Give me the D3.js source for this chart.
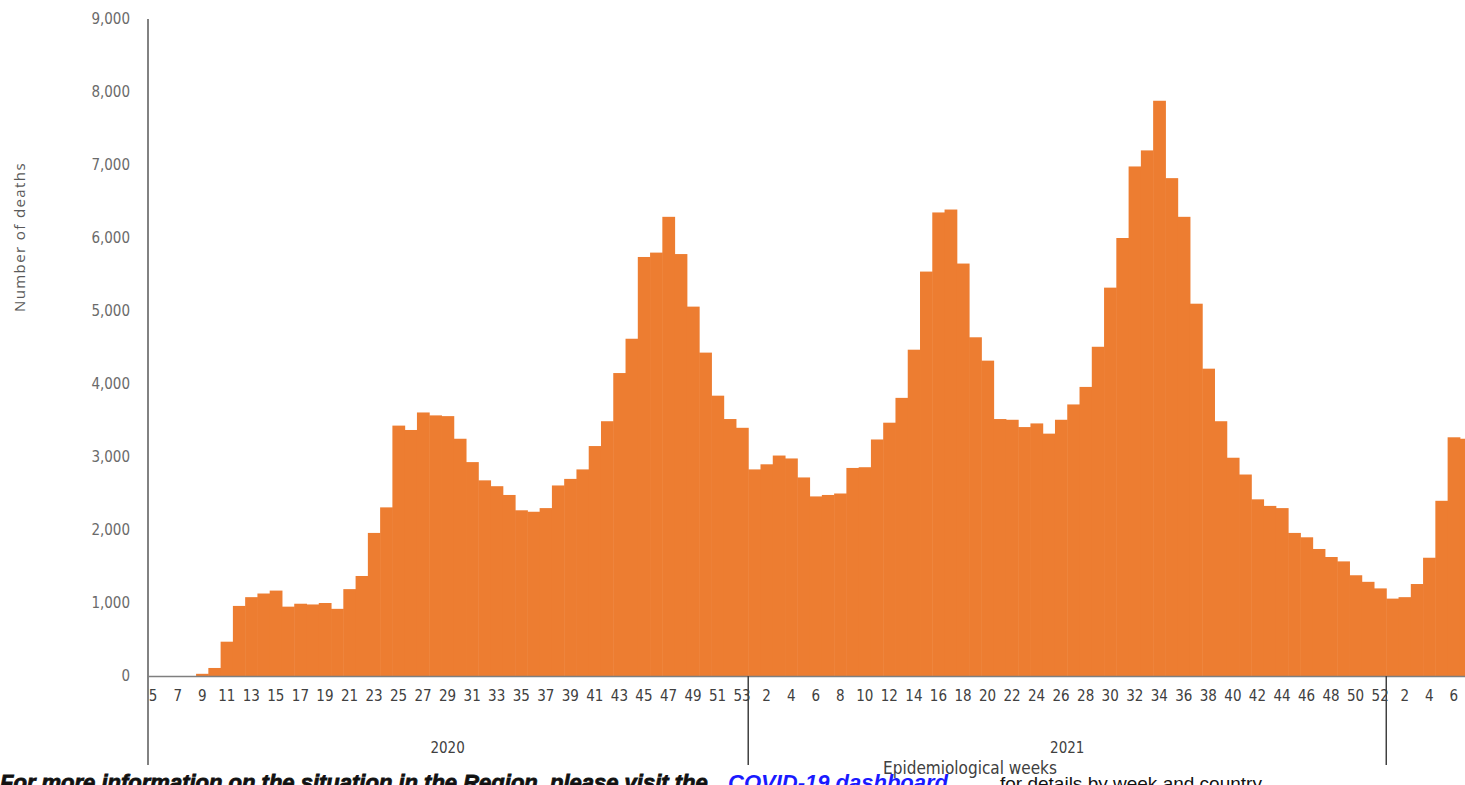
<!DOCTYPE html>
<html>
<head>
<meta charset="utf-8">
<script src="https://cdn.jsdelivr.net/npm/d3@7"></script>
<style>
  body { margin: 0; background: #fff; overflow: hidden; }
  #chart svg { display: block; }
</style>
</head>
<body>
<div id="chart"></div>
<script>
// weekly deaths
const deaths2020 = [0, 0, 0, 0, 30, 110, 470, 960, 1080, 1130, 1170, 950, 990, 980, 1000, 920,
  1190, 1370, 1960, 2310, 3430, 3370, 3610, 3570, 3560, 3250, 2930, 2680, 2600, 2480, 2270,
  2250, 2300, 2610, 2700, 2830, 3150, 3490, 4150, 4620, 5740, 5800, 6290, 5780, 5060, 4430,
  3840, 3520, 3400]
const deaths2021 = [2830, 2900, 3020, 2980, 2720, 2460, 2480, 2500, 2850, 2860, 3240, 3470,
  3810, 4470, 5540, 6350, 6390, 5650, 4640, 4320, 3520, 3510, 3410, 3460, 3320, 3510, 3720,
  3960, 4510, 5320, 6000, 6980, 7200, 7880, 6820, 6290, 5100, 4210, 3490, 2990, 2760, 2420,
  2330, 2300, 1960, 1900, 1740, 1630, 1570, 1380, 1290, 1200]
const deaths2022 = [1060, 1080, 1260, 1620, 2400, 3270, 3250]
const years = ['2020', '2021', '2022']
const firstWeek = { '2020': 5, '2021': 1, '2022': 1 }
const yTicks = [0, 1000, 2000, 3000, 4000, 5000, 6000, 7000, 8000, 9000]

const width = 1465
const height = 785
const left = 147
const step = 12.27
const baseY = 676
const topY = 19

const seriesByYear = { '2020': deaths2020, '2021': deaths2021, '2022': deaths2022 }
const data = []
years.forEach(y => {
  seriesByYear[y].forEach((v, i) => {
    data.push({ year: y, week: firstWeek[y] + i, value: v, key: y + '-' + (firstWeek[y] + i) })
  })
})

const svg = d3.select('#chart')
  .append('svg')
  .attr('width', width)
  .attr('height', height)

const x = d3.scaleBand()
  .domain(data.map(d => d.key))
  .range([left, left + data.length * step])
  .padding(0)

const y = d3.scaleLinear()
  .domain([0, 9000])
  .range([baseY, topY])

// bars
svg.append('g')
  .selectAll('rect')
  .data(data)
  .join('rect')
  .attr('x', d => x(d.key))
  .attr('y', d => y(d.value))
  .attr('width', x.bandwidth() + 0.5)
  .attr('height', d => baseY - y(d.value))
  .attr('fill', '#ed7d31')

const axisFont = '"DejaVu Sans Condensed", "Liberation Sans Narrow", sans-serif'

// y axis
const yAxis = d3.axisLeft(y)
  .tickValues(yTicks)
  .tickSize(0)
  .tickPadding(18)
  .tickFormat(d3.format(','))
svg.append('g')
  .attr('transform', `translate(${left + 1}, 0)`)
  .call(yAxis)
  .call(g => g.select('.domain').remove())
  .selectAll('text')
  .style('font-family', axisFont)
  .style('font-size', '15px')
  .attr('fill', '#6a6a6a')

svg.append('line')
  .attr('x1', left + 1).attr('x2', left + 1)
  .attr('y1', topY).attr('y2', 765)
  .attr('stroke', '#595959')
  .attr('stroke-width', 1.5)

// x axis baseline
svg.append('line')
  .attr('x1', left + 1).attr('x2', width)
  .attr('y1', baseY + 0.5).attr('y2', baseY + 0.5)
  .attr('stroke', '#7f7f7f')
  .attr('stroke-width', 1.5)

// week labels: odd weeks in 2020, even weeks afterwards
const labelled = data.filter(d => d.year === '2020' ? d.week % 2 === 1 : d.week % 2 === 0)
const xAxis = d3.axisBottom(x)
  .tickSize(0)
  .tickPadding(14)
  .tickValues(labelled.map(d => d.key))
  .tickFormat(k => k.split('-')[1])
svg.append('g')
  .attr('transform', `translate(0, ${baseY})`)
  .call(xAxis)
  .call(g => g.select('.domain').remove())
  .selectAll('text')
  .style('font-family', axisFont)
  .style('font-size', '15px')
  .attr('fill', '#404040')

// year separators and labels
const yearStart = yr => x(data.find(d => d.year === yr).key)
const yearEnd = yr => { const ds = data.filter(d => d.year === yr); return x(ds[ds.length - 1].key) + x.bandwidth() }
;['2021', '2022'].forEach(yr => {
  svg.append('line')
    .attr('x1', yearStart(yr)).attr('x2', yearStart(yr))
    .attr('y1', baseY).attr('y2', 765)
    .attr('stroke', '#404040')
    .attr('stroke-width', 1.5)
})
;['2020', '2021'].forEach(yr => {
  svg.append('text')
    .attr('x', (yearStart(yr) + yearEnd(yr)) / 2)
    .attr('y', 753)
    .attr('text-anchor', 'middle')
    .style('font-family', axisFont)
    .style('font-size', '15px')
    .attr('fill', '#404040')
    .text(yr)
})

// axis titles
svg.append('text')
  .attr('transform', 'translate(25, 237) rotate(-90)')
  .attr('text-anchor', 'middle')
  .style('font-family', '"Open Sans", sans-serif')
  .style('font-size', '15px')
  .style('letter-spacing', '1.4px')
  .attr('fill', '#595959')
  .text('Number of  deaths')

svg.append('text')
  .attr('x', 970)
  .attr('y', 774)
  .attr('text-anchor', 'middle')
  .style('font-family', axisFont)
  .style('font-size', '17px')
  .attr('fill', '#404040')
  .text('Epidemiological weeks')

// caption line, cut off by the bottom edge as in the source
const cap = svg.append('g').style('font-family', '"Liberation Sans", sans-serif')
  .style('font-size', '22px').style('font-weight', 'bold').style('font-style', 'italic')
cap.append('text').attr('x', 0).attr('y', 790).attr('fill', '#111')
  .attr('stroke', '#111').attr('stroke-width', 0.8)
  .text('For more information on the situation in the Region, please visit the')
cap.append('text').attr('x', 728).attr('y', 790).attr('fill', '#1a1aff')
  .text('COVID-19 dashboard')
cap.append('text').attr('x', 1000).attr('y', 790).attr('fill', '#111')
  .style('font-weight', 'normal').style('font-style', 'normal').style('font-size', '19px')
  .text('for details by week and country')
</script>
</body>
</html>
